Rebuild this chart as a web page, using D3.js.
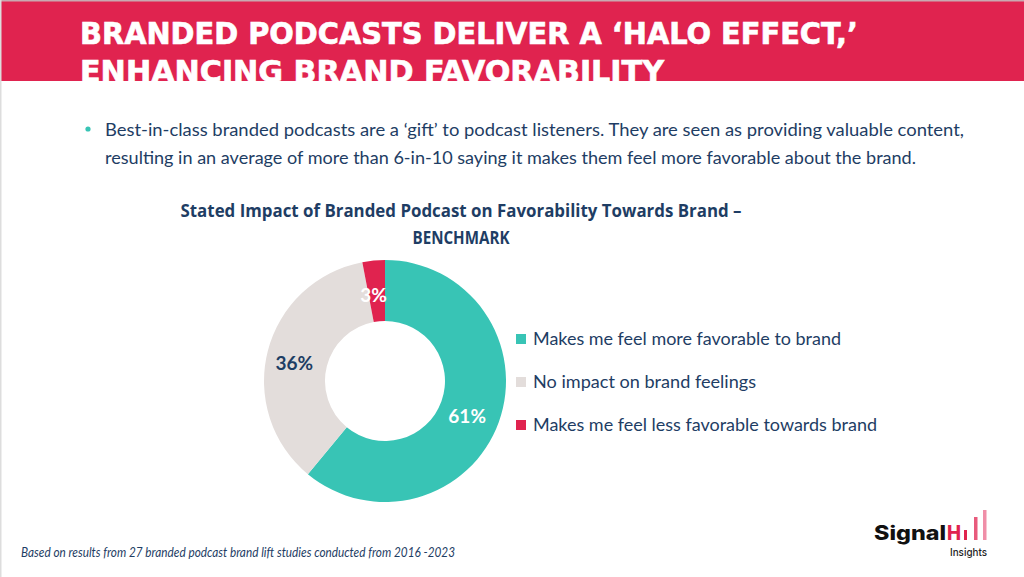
<!DOCTYPE html>
<html>
<head>
<meta charset="utf-8">
<script src="https://cdn.jsdelivr.net/npm/d3@7"></script>
<style>
  html, body { margin: 0; padding: 0; background: #fff; }
  svg { display: block; }
</style>
</head>
<body>
<svg id="chart" width="1024" height="577"></svg>
<script>
const titleLines = ["BRANDED PODCASTS DELIVER A \u2018HALO EFFECT,\u2019", "ENHANCING BRAND FAVORABILITY"];
const bulletLines = [
  "Best-in-class branded podcasts are a \u2018gift\u2019 to podcast listeners. They are seen as providing valuable content,",
  "resulting in an average of more than 6-in-10 saying it makes them feel more favorable about the brand."
];
const chartTitleLines = ["Stated Impact of Branded Podcast on Favorability Towards Brand \u2013", "BENCHMARK"];
const categories = ["Makes me feel more favorable to brand", "No impact on brand feelings", "Makes me feel less favorable towards brand"];
const values = [61, 36, 3];
const footnote = "Based on results from 27 branded podcast brand lift studies conducted from 2016 -2023";

const colors = ["#38C4B5", "#E3DDDB", "#E0234F"];
const labelColors = ["#FFFFFF", "#1E3D64", "#FFFFFF"];
const navy = "#1E3D64";
const crimson = "#E0234F";

const svg = d3.select("#chart");

svg.append("rect").attr("x", 0).attr("y", 0).attr("width", 1024).attr("height", 577).attr("fill", "#fff");

// header band
svg.append("rect").attr("x", 0).attr("y", 0).attr("width", 1024).attr("height", 81).attr("fill", crimson);
svg.append("rect").attr("x", 0).attr("y", 0).attr("width", 1024).attr("height", 1.5).attr("fill", "#C9A9B1");
svg.append("rect").attr("x", 0).attr("y", 0).attr("width", 1.5).attr("height", 577).attr("fill", "#DDDDDD");

const clip = svg.append("defs").append("clipPath").attr("id", "hdrclip");
clip.append("rect").attr("x", 0).attr("y", 0).attr("width", 1024).attr("height", 81);

const titleWidths = [778, 584];
svg.append("g").attr("clip-path", "url(#hdrclip)")
  .selectAll("text").data(titleLines).join("text")
  .attr("x", 80)
  .attr("y", (d, i) => 44 + i * 38)
  .attr("textLength", (d, i) => titleWidths[i])
  .attr("lengthAdjust", "spacingAndGlyphs")
  .attr("font-family", "'DejaVu Sans Condensed', 'DejaVu Sans', sans-serif")
  .attr("font-weight", "bold")
  .attr("font-size", 30)
  .attr("stroke", "#fff")
  .attr("stroke-width", 0.6)
  .attr("fill", "#fff")
  .text(d => d);

// bullet
svg.append("circle").attr("cx", 88).attr("cy", 129).attr("r", 2.6).attr("fill", "#38C4B5");
const bulletWidths = [859, 811];
svg.selectAll("text.bullet").data(bulletLines).join("text")
  .attr("class", "bullet")
  .attr("x", 105)
  .attr("y", (d, i) => 136 + i * 27.5)
  .attr("textLength", (d, i) => bulletWidths[i])
  .attr("lengthAdjust", "spacingAndGlyphs")
  .attr("font-family", "Lato, 'Noto Sans', sans-serif")
  .attr("font-size", 17)
  .attr("fill", navy)
  .text(d => d);

// chart title
const ctWidths = [561, 97];
svg.selectAll("text.ctitle").data(chartTitleLines).join("text")
  .attr("class", "ctitle")
  .attr("x", 461)
  .attr("y", (d, i) => 217 + i * 27)
  .attr("text-anchor", "middle")
  .attr("textLength", (d, i) => ctWidths[i])
  .attr("lengthAdjust", "spacingAndGlyphs")
  .attr("font-family", "'Open Sans', sans-serif")
  .attr("font-weight", "bold")
  .attr("font-size", 17)
  .attr("fill", navy)
  .text(d => d);

// donut
const cx = 385, cy = 381, outerR = 121, innerR = 60;
const pie = d3.pie().sort(null).value(d => d)(values);
const arc = d3.arc().innerRadius(innerR).outerRadius(outerR);
const labelArc = d3.arc().innerRadius((innerR + outerR) / 2).outerRadius((innerR + outerR) / 2);
const g = svg.append("g").attr("transform", `translate(${cx},${cy})`);
g.selectAll("path").data(pie).join("path")
  .attr("d", arc)
  .attr("fill", (d, i) => colors[i]);
g.selectAll("text").data(pie).join("text")
  .attr("transform", d => {
    const c = labelArc.centroid(d);
    return `translate(${c[0] - 3},${c[1] + 4})`;
  })
  .attr("text-anchor", "middle")
  .attr("dominant-baseline", "central")
  .attr("font-family", "Lato, 'Noto Sans', sans-serif")
  .attr("font-weight", "bold")
  .attr("font-size", 19)
  .attr("fill", (d, i) => labelColors[i])
  .text(d => d.data + "%");

// legend
const legY = d3.scalePoint().domain(categories).range([339, 425]);
const legWidths = [308, 223, 344];
const leg = svg.selectAll("g.leg").data(categories).join("g")
  .attr("class", "leg")
  .attr("transform", d => `translate(516,${legY(d)})`);
leg.append("rect").attr("x", 0).attr("y", -5).attr("width", 10).attr("height", 10)
  .attr("fill", (d, i) => colors[i]);
leg.append("text")
  .attr("x", 17).attr("y", 6)
  .attr("textLength", (d, i) => legWidths[i])
  .attr("lengthAdjust", "spacingAndGlyphs")
  .attr("font-family", "Lato, 'Noto Sans', sans-serif")
  .attr("font-size", 17)
  .attr("fill", navy)
  .text(d => d);

// footnote
svg.append("text")
  .attr("x", 21).attr("y", 557)
  .attr("textLength", 434)
  .attr("lengthAdjust", "spacingAndGlyphs")
  .attr("font-family", "Lato, 'Noto Sans', sans-serif")
  .attr("font-style", "italic")
  .attr("font-size", 13)
  .attr("fill", navy)
  .text(footnote);

// logo
const logo = svg.append("g");
logo.append("text").attr("x", 874).attr("y", 540)
  .attr("textLength", 72).attr("lengthAdjust", "spacingAndGlyphs")
  .attr("font-family", "Inter, 'DejaVu Sans', sans-serif").attr("font-weight", 800)
  .attr("font-size", 20).attr("fill", "#111").text("Signal");
logo.append("text").attr("x", 947).attr("y", 540)
  .attr("textLength", 14).attr("lengthAdjust", "spacingAndGlyphs")
  .attr("font-family", "Inter, 'DejaVu Sans', sans-serif").attr("font-weight", 800)
  .attr("font-size", 20).attr("fill", crimson).text("H");
logo.append("rect").attr("x", 964).attr("y", 530).attr("width", 3).attr("height", 10).attr("fill", crimson);
logo.append("rect").attr("x", 974).attr("y", 517).attr("width", 3.5).attr("height", 23).attr("fill", "#E85A7C");
logo.append("rect").attr("x", 983).attr("y", 510).attr("width", 3.5).attr("height", 30).attr("fill", "#F08FA8");
logo.append("text").attr("x", 950).attr("y", 556)
  .attr("textLength", 37).attr("lengthAdjust", "spacingAndGlyphs")
  .attr("font-family", "Inter, 'DejaVu Sans', sans-serif").attr("font-weight", 500)
  .attr("font-size", 11).attr("fill", "#222").text("Insights");
</script>
</body>
</html>
